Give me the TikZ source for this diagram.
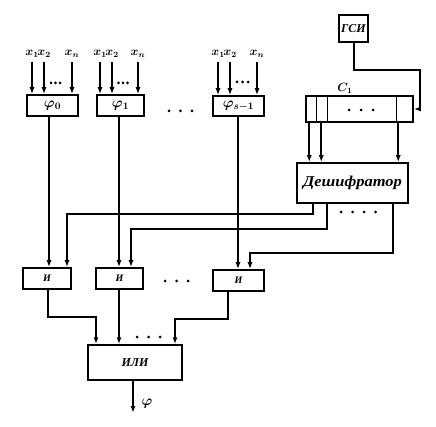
\documentclass[tikz,border=0pt]{standalone}
\usepackage{fontspec}
\setmainfont{Liberation Serif}
\usetikzlibrary{arrows.meta}
\begin{document}
\begin{tikzpicture}[x=1pt,y=-1pt,
  box/.style={draw,line width=1.5pt,inner sep=0pt,font=\bfseries\itshape},
  ln/.style={line width=2pt},
  arr/.style={ln,-{Latex[length=7pt,width=5pt]}},
  lbl/.style={inner sep=0pt,font=\boldmath\large},
  dot/.style={fill=black}]
\useasboundingbox[fill=white] (0,0) rectangle (436,427);

% function boxes
\node[box,minimum width=51pt,minimum height=21pt,font=\boldmath\Large] (phi0) at (52.5,105.5) {$\varphi_0$};
\node[box,minimum width=47pt,minimum height=21pt,font=\boldmath\Large] (phi1) at (120.5,105.5) {$\varphi_1$};
\node[box,minimum width=51pt,minimum height=20pt,font=\boldmath\Large] (phis) at (238.5,106) {$\varphi_{s-1}$};
\node[box,minimum width=29pt,minimum height=27pt,font=\bfseries\itshape\large] (gsi) at (353.5,28.5) {ГСИ};
\node[box,minimum width=107pt,minimum height=26pt] (reg) at (359.5,109) {};
\node[box,minimum width=111pt,minimum height=40pt,font=\bfseries\itshape\fontsize{15}{15}\selectfont] (dec) at (352.5,183) {\scalebox{1.1}[1]{Дешифратор}};
\node[box,minimum width=48pt,minimum height=21pt,font=\bfseries\itshape\normalsize] (and1) at (47,278.5) {И};
\node[box,minimum width=47pt,minimum height=21pt,font=\bfseries\itshape\normalsize] (and2) at (119.5,278.5) {И};
\node[box,minimum width=51pt,minimum height=21pt,font=\bfseries\itshape\normalsize] (and3) at (238.5,280.5) {И};
\node[box,minimum width=94pt,minimum height=35pt,font=\bfseries\itshape\large] (or) at (135,362.5) {ИЛИ};

% register cell dividers
\draw[line width=1.5pt] ([xshift=11pt]reg.north west) -- ([xshift=11pt]reg.south west);
\draw[line width=1.5pt] ([xshift=22pt]reg.north west) -- ([xshift=22pt]reg.south west);
\draw[line width=1.5pt] ([xshift=91pt]reg.north west) -- ([xshift=91pt]reg.south west);
\node[lbl] (clab) at (345,88) {$C_1$};

% input labels
\node[lbl] (x01) at (32,54) {$x_1$};
\node[lbl] (x02) at (44,54) {$x_2$};
\node[lbl] (x0n) at (72,54) {$x_n$};
\node[lbl] (x11) at (100,54) {$x_1$};
\node[lbl] (x12) at (112,54) {$x_2$};
\node[lbl] (x1n) at (138,54) {$x_n$};
\node[lbl] (xs1) at (218,54) {$x_1$};
\node[lbl] (xs2) at (230,54) {$x_2$};
\node[lbl] (xsn) at (257,54) {$x_n$};

\foreach \a/\b in {x01/phi0,x02/phi0,x0n/phi0,x11/phi1,x12/phi1,x1n/phi1,xs1/phis,xs2/phis,xsn/phis}
  \draw[arr,shorten <=4pt] (\a.south) -- (\a.south |- \b.north);

% dots
\foreach \x/\y in {51/83,55.5/83,60/83, 118.5/83,123/83,127.5/83, 237/82,242.5/82,248/82,
  169/111,180.5/111,192/111, 165/281,176.5/281,188/281, 137/337,148.5/337,160/337,
  349/110,361/110,373/110, 341/212,352.5/212,364/212,375.5/212}
  \fill[dot] (\x,\y) circle (1.5pt);

% generator to register
\draw[arr] (gsi.south) -- (gsi.south |- 0,70) -| (420,0 |- reg.east) -- (reg.east);

% register to decoder
\draw[arr] ([xshift=4pt]reg.south west) -- ([xshift=4pt]reg.south west |- dec.north);
\draw[arr] ([xshift=16pt]reg.south west) -- ([xshift=16pt]reg.south west |- dec.north);
\draw[arr] ([xshift=93pt]reg.south west) -- ([xshift=93pt]reg.south west |- dec.north);

% function outputs to AND gates
\draw[arr] (49,0 |- phi0.south) -- (49,0 |- and1.north);
\draw[arr] (119,0 |- phi1.south) -- (119,0 |- and2.north);
\draw[arr] (238,0 |- phis.south) -- (238,0 |- and3.north);

% decoder outputs to AND gates
\draw[arr] (313,0 |- dec.south) -- (313,214) -| (67,0 |- and1.north);
\draw[arr] (327,0 |- dec.south) -- (327,229) -| (131,0 |- and2.north);
\draw[arr] (393,0 |- dec.south) -- (393,253) -| (250,0 |- and3.north);

% AND outputs to OR
\draw[arr] (48,0 |- and1.south) -- (48,317) -| (96,0 |- or.north);
\draw[arr] (119,0 |- and2.south) -- (119,0 |- or.north);
\draw[arr] (228,0 |- and3.south) -- (228,319) -| (175,0 |- or.north);

% output
\coordinate (out) at (133,413);
\draw[arr] (133,0 |- or.south) -- (out);
\node[lbl,font=\boldmath\Large] (flab) at (147,404) {$\varphi$};
\end{tikzpicture}
\end{document}
